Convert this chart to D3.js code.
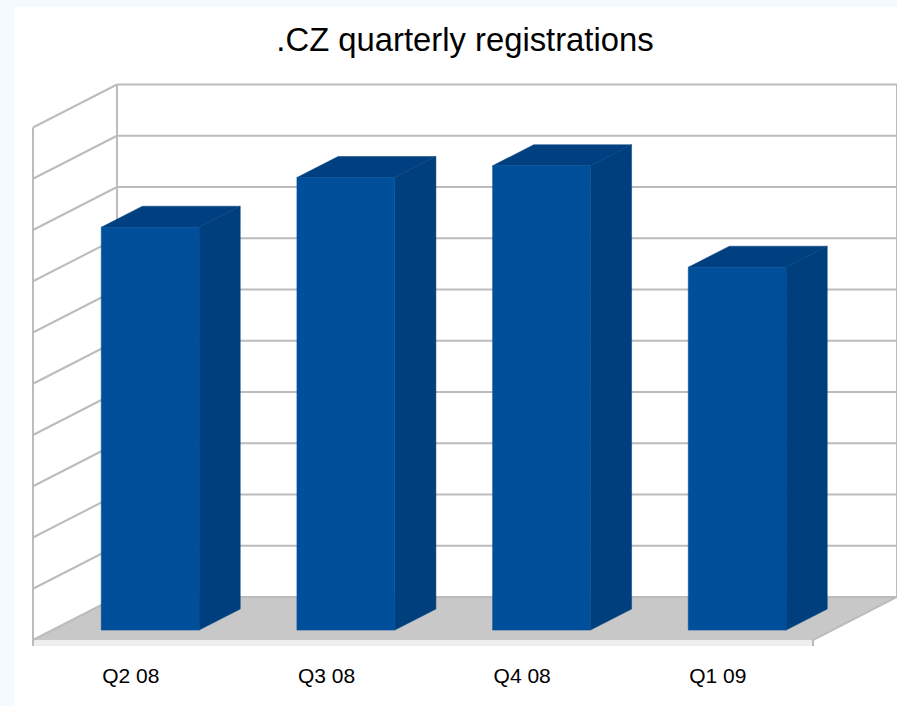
<!DOCTYPE html>
<meta charset="utf-8">
<style>
html, body { margin: 0; padding: 0; background: #f5faff; }
svg { display: block; }
text { font-family: "Liberation Sans", sans-serif; fill: #000; }
</style>
<svg width="897" height="706"></svg>
<script src="https://d3js.org/d3.v7.min.js"></script>
<script>

var categories = ["Q2 08", "Q3 08", "Q4 08", "Q1 09"];
// no value labels on the chart, so these are in gridline units
var registrations = [7.86, 8.83, 9.06, 7.08];
var gridTicks = d3.range(0, 11);

var svg = d3.select("svg");

svg.append("rect")
    .attr("x", 14).attr("y", 7)
    .attr("width", 883).attr("height", 699)
    .attr("fill", "#fff");

var x0 = 33, x1 = 813;

var x = d3.scaleBand().domain(categories).range([x0, 815.7]).paddingInner(0.5).paddingOuter(0.25),
    y = d3.scaleLinear().domain([0, 10]).range([640, 127.5]),
    depthX = d3.scaleLinear().domain([0, 1]).range([0, 84]),
    depthY = d3.scaleLinear().domain([0, 1]).range([0, -43]);

// front-plane position pushed back by depth z
function pt(px, value, z) {
  return [px + depthX(z), y(value) + depthY(z)];
}

var path = d3.line();

// floor
svg.append("rect")
    .attr("x", x0).attr("y", y(0))
    .attr("width", x1 - x0).attr("height", 6)
    .attr("fill", "#eeeeee");

svg.append("path")
    .attr("d", path([pt(x0, 0, 0), pt(x1, 0, 0), pt(x1, 0, 1), pt(x0, 0, 1)]) + "Z")
    .attr("fill", "#c8c8c8");

svg.append("path")
    .attr("d", path([[x1, y(0) + 6], pt(x1, 0, 0), pt(x1, 0, 1)]))
    .attr("fill", "none")
    .attr("stroke", "#bcbcbc")
    .attr("stroke-width", 2);

// back and side walls
var grid = svg.append("g")
    .attr("fill", "none")
    .attr("stroke", "#bcbcbc")
    .attr("stroke-width", 2);

grid.selectAll(".back")
    .data(gridTicks)
  .enter().append("path")
    .attr("class", "back")
    .attr("d", function(d) { return path([pt(x0, d, 1), pt(x1, d, 1)]); });

grid.selectAll(".side")
    .data(gridTicks)
  .enter().append("path")
    .attr("class", "side")
    .attr("d", function(d) { return path([pt(x0, d, 0), pt(x0, d, 1)]); });

grid.append("path")
    .attr("d", path([[x0, y(0) + 6], pt(x0, 10, 0)]));
grid.append("path")
    .attr("d", path([pt(x0, 0, 1), pt(x0, 10, 1)]));
grid.append("path")
    .attr("d", path([pt(x1, 0, 1), pt(x1, 10, 1)]));

// bars
var zFront = 0.23, zBack = 0.72;

var bar = svg.selectAll(".bar")
    .data(categories)
  .enter().append("g")
    .attr("class", "bar")
    .attr("stroke-width", 0.5);

bar.append("path")
    .attr("fill", "#003f7d")
    .attr("stroke", "#003f7d")
    .attr("d", function(d, i) {
      var r = x(d) + x.bandwidth();
      return path([pt(r, 0, zFront), pt(r, 0, zBack), pt(r, registrations[i], zBack), pt(r, registrations[i], zFront)]) + "Z";
    });

bar.append("path")
    .attr("fill", "#004080")
    .attr("stroke", "#004080")
    .attr("d", function(d, i) {
      var l = x(d), r = l + x.bandwidth(), v = registrations[i];
      return path([pt(l, v, zFront), pt(r, v, zFront), pt(r, v, zBack), pt(l, v, zBack)]) + "Z";
    });

bar.append("path")
    .attr("fill", "#004f9b")
    .attr("stroke", "#004f9b")
    .attr("d", function(d, i) {
      var l = x(d), r = l + x.bandwidth(), v = registrations[i];
      return path([pt(l, 0, zFront), pt(r, 0, zFront), pt(r, v, zFront), pt(l, v, zFront)]) + "Z";
    });

// labels
svg.selectAll(".cat")
    .data(categories)
  .enter().append("text")
    .attr("class", "cat")
    .attr("x", function(d) { return x(d) + x.bandwidth() / 2; })
    .attr("y", 683)
    .attr("text-anchor", "middle")
    .style("font-size", "21px")
    .text(function(d) { return d; });

svg.append("text")
    .attr("x", 465)
    .attr("y", 51)
    .attr("text-anchor", "middle")
    .style("font-size", "32.8px")
    .text(".CZ quarterly registrations");

</script>
